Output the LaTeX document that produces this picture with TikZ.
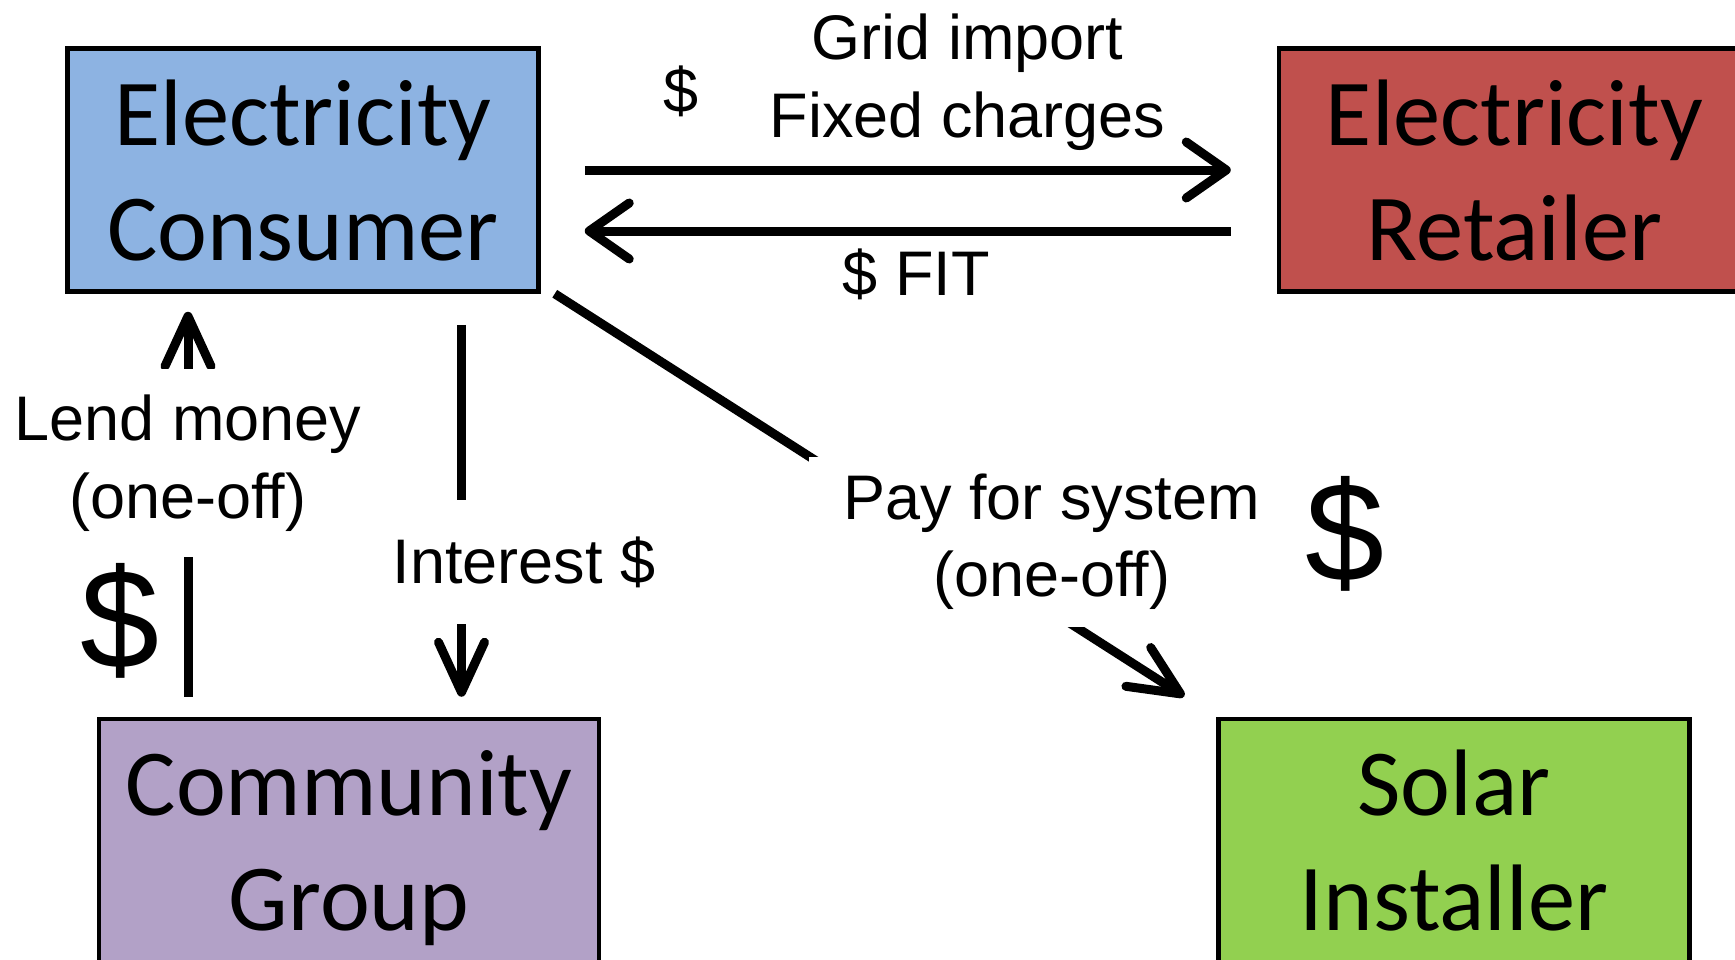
\documentclass[tikz,border=0pt]{standalone}
\usepackage{fontspec}
\usetikzlibrary{arrows.meta, positioning}
\newfontfamily\boxfamily{Carlito}
\newfontfamily\lblfamily{Liberation Sans}
\newcommand{\boxtext}{\boxfamily\fontsize{47.25}{57.5}\selectfont}
\newcommand{\lbltext}{\lblfamily\fontsize{31.5}{38.75}\selectfont}
\newcommand{\bigdollar}{\lblfamily\fontsize{71}{80}\selectfont}
\definecolor{consumerblue}{HTML}{8DB3E2}
\definecolor{retailerred}{HTML}{C0504D}
\definecolor{communitypurple}{HTML}{B2A1C7}
\definecolor{solargreen}{HTML}{92D050}

\begin{document}
\begin{tikzpicture}[
  x=0.5pt, y=-0.5pt,
  box/.style={draw, rectangle, line width=2.25pt, align=center, text depth=0pt, minimum width=235.5pt, minimum height=121.5pt, font=\boxtext},
  lbl/.style={align=center, inner sep=0pt, font=\lbltext},
  gap/.style={lbl, fill=white},
  flow/.style={line width=4.5pt, -{Straight Barb[length=20pt, width=28pt, round]}},
  vflow/.style={line width=4.5pt, -{Straight Barb[length=25pt, width=23pt, round]}}
]
\useasboundingbox (0,0) rectangle (1735,959);
\clip (0,0) rectangle (1735,959);

\node[box, fill=consumerblue] (ec) at (303,170) {Electricity\\Consumer};
\node[box, fill=retailerred] (er) [right=368pt of ec] {Electricity\\Retailer};
\node[box, fill=communitypurple, minimum width=250pt] (cg) at (349,840.5) {Community\\Group};
\node[box, fill=solargreen] (si) [right=307.5pt of cg] {Solar\\Installer};

% consumer <-> retailer
\draw[flow, shorten <=22pt, shorten >=23pt] (ec.east) -- (er.west)
  node[lbl, pos=0.19, yshift=39.5pt] {\$}
  node[lbl, pos=0.58, yshift=44pt] {Grid import\\Fixed charges};
\draw[flow, shorten <=23pt, shorten >=22pt] ([yshift=-30.5pt]er.west) -- ([yshift=-30.5pt]ec.east)
  node[lbl, pos=0.49, yshift=-21.5pt] {\$ FIT};

% loan from the community group
\coordinate (lendx) at (188,0);
\coordinate (intx) at (461.5,0);
\draw[vflow, shorten <=10pt, shorten >=9pt] (cg.north -| lendx) --
  node[gap, pos=0.6, minimum height=94pt] {Lend money\\(one-off)} (ec.south -| lendx);
\node[font=\bigdollar, inner sep=0pt] (lenddollar) at (120,621) {\$};
\draw[vflow, shorten <=15.5pt, shorten >=10pt] (ec.south -| intx) --
  node[gap, pos=0.635, xshift=31.25pt, minimum height=62pt] {Interest \$} (cg.north -| intx);

% payment to the installer
\draw[vflow, shorten >=19pt] ([xshift=7pt]ec.south east) --
  node[gap, pos=0.6, xshift=50pt, yshift=3pt, minimum width=243pt, minimum height=85pt] {Pay for system\\(one-off)} (si.north west);
\node[font=\bigdollar, inner sep=0pt] (paydollar) at (1345,534) {\$};
\end{tikzpicture}
\end{document}
